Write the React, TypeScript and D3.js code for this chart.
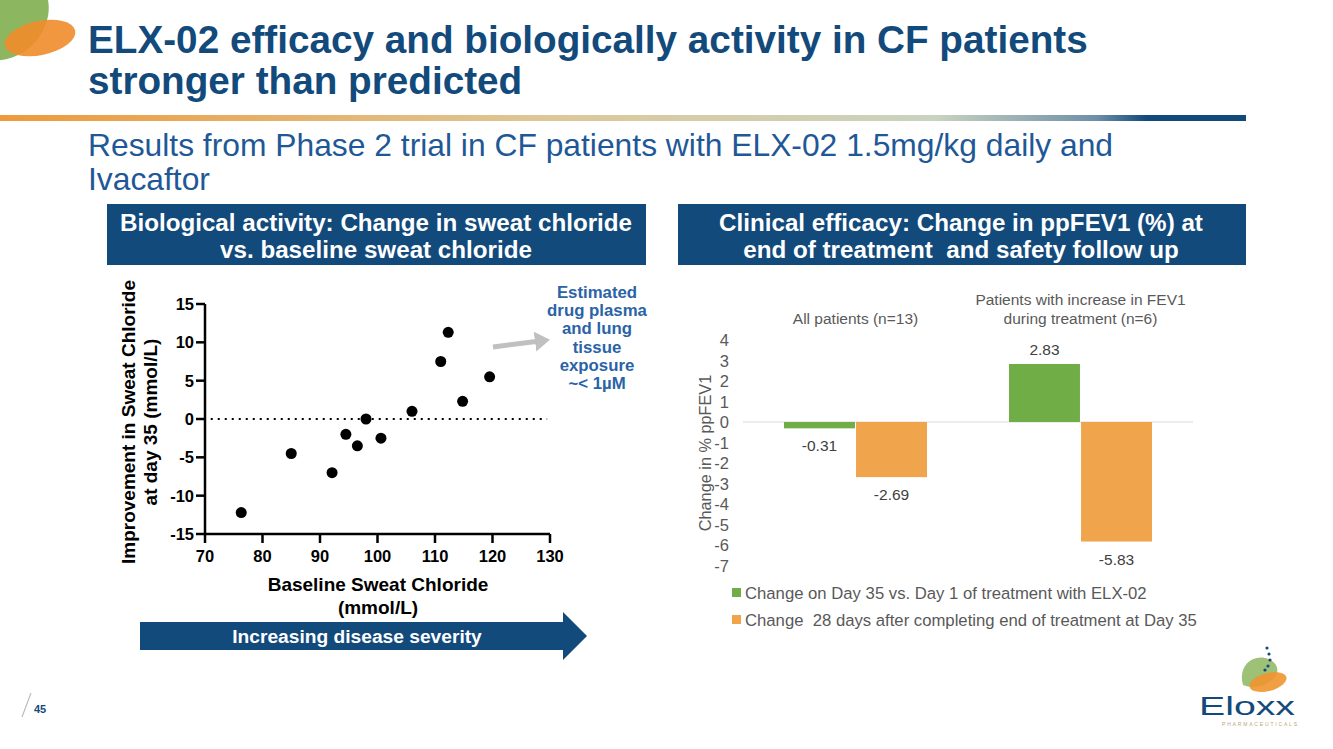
import React from "react";
import * as d3 from "d3";

const baselineSweat = [76.3, 85, 92.1, 94.5, 96.5, 98, 100.6, 106, 111, 112.3, 114.8, 119.5];
const improvementSweat = [-12.2, -4.5, -7, -2, -3.5, 0, -2.5, 1, 7.5, 11.3, 2.3, 5.5];
const scatterXTicks = [70, 80, 90, 100, 110, 120, 130];
const scatterYTicks = [15, 10, 5, 0, -5, -10, -15];

const barCategories = ["All patients (n=13)", "Patients with increase in FEV1|during treatment (n=6)"];
const seriesNames = [
  "Change on Day 35 vs. Day 1 of treatment with ELX-02",
  "Change  28 days after completing end of treatment at Day 35",
];
const day35Values = [-0.31, 2.83];
const after28Values = [-2.69, -5.83];
const barYTicks = [4, 3, 2, 1, 0, -1, -2, -3, -4, -5, -6, -7];
const annotationLines = ["Estimated", "drug plasma", "and lung", "tissue", "exposure", "~< 1\u00b5M"];

const BLUE = "#134a7c";
const GREEN = "#70ad47";
const ORANGE = "#f0a44b";
const FONT = "'Liberation Sans', Arial, sans-serif";

export default function App() {
  const sx = d3.scaleLinear().domain([70, 130]).range([205, 550]);
  const sy = d3.scaleLinear().domain([-15, 15]).range([534, 304]);
  const bx = d3.scaleBand<number>().domain([0, 1]).range([743, 1193]).paddingInner(0).paddingOuter(0);
  const by = d3.scaleLinear().domain([-7, 4]).range([565.5, 340]);
  const groupW = 143;
  const inner = d3.scaleBand<number>().domain([0, 1]).range([0, groupW]).paddingInner(0.015);
  const series = [day35Values, after28Values];
  const colors = [GREEN, ORANGE];

  return (
    <svg width={1333} height={749} style={{ position: "absolute", left: 0, top: 0, fontFamily: FONT }}>
      <defs>
        <linearGradient id="hdrGrad" x1="0" x2="1" y1="0" y2="0">
          <stop offset="0" stopColor="#ee9a3a" />
          <stop offset="0.45" stopColor="#ddc89a" />
          <stop offset="0.75" stopColor="#c9d3bf" />
          <stop offset="0.88" stopColor="#6f8fa8" />
          <stop offset="0.92" stopColor={BLUE} />
          <stop offset="1" stopColor={BLUE} />
        </linearGradient>
        <marker id="greyHead" markerWidth="4" markerHeight="4" refX="1" refY="2" orient="auto" markerUnits="strokeWidth">
          <path d="M0,0 L3,2 L0,4 Z" fill="#c0c0c0" />
        </marker>
      </defs>
      <rect width={1333} height={749} fill="#fff" />

      {/* top-left leaves */}
      <path d="M0,0 L48,0 C52,20 40,45 18,55 C10,59 3,60 0,60 Z" fill="#8db660" />
      <ellipse cx={40} cy={38} rx={36} ry={17} transform="rotate(-12 40 38)" fill="#f08c2a" opacity={0.9} />

      {/* Title */}
      <text x={88} y={53} fontSize={38.7} fontWeight="bold" fill={BLUE}>ELX-02 efficacy and biologically activity in CF patients</text>
      <text x={88} y={94} fontSize={38.7} fontWeight="bold" fill={BLUE}>stronger than predicted</text>
      <rect x={0} y={115} width={1246} height={6} fill="url(#hdrGrad)" />

      <text x={88} y={156} fontSize={31.8} fill="#1f5896">Results from Phase 2 trial in CF patients with ELX-02 1.5mg/kg daily and</text>
      <text x={88} y={190} fontSize={31.8} fill="#1f5896">Ivacaftor</text>

      {/* header boxes */}
      <rect x={107} y={204} width={539} height={61} fill={BLUE} />
      <text x={376} y={231} fontSize={24.2} fontWeight="bold" fill="#fff" textAnchor="middle">Biological activity: Change in sweat chloride</text>
      <text x={376} y={258} fontSize={24.2} fontWeight="bold" fill="#fff" textAnchor="middle">vs. baseline sweat chloride</text>
      <rect x={678} y={204} width={568} height={61} fill={BLUE} />
      <text x={961} y={231} fontSize={24.2} fontWeight="bold" fill="#fff" textAnchor="middle" style={{ whiteSpace: "pre" }}>Clinical efficacy: Change in ppFEV1 (%) at</text>
      <text x={961} y={258} fontSize={24.2} fontWeight="bold" fill="#fff" textAnchor="middle" style={{ whiteSpace: "pre" }}>end of treatment  and safety follow up</text>

      {/* Scatter */}
      <line x1={sx(71)} x2={sx(129.5)} y1={sy(0)} y2={sy(0)} stroke="#000" strokeWidth={2} strokeDasharray="2,5" />
      <line x1={sx(70)} x2={sx(70)} y1={sy(-15)} y2={sy(15)} stroke="#000" strokeWidth={2.5} />
      <line x1={sx(70)} x2={sx(130)} y1={sy(-15)} y2={sy(-15)} stroke="#000" strokeWidth={2.5} />
      {scatterYTicks.map((t) => (
        <g key={"sy" + t}>
          <line x1={sx(70) - 9} x2={sx(70)} y1={sy(t)} y2={sy(t)} stroke="#000" strokeWidth={2.5} />
          <text x={sx(70) - 11} y={sy(t) + 6} fontSize={16.5} fontWeight="bold" textAnchor="end">{t}</text>
        </g>
      ))}
      {scatterXTicks.map((t) => (
        <g key={"sx" + t}>
          <line x1={sx(t)} x2={sx(t)} y1={sy(-15)} y2={sy(-15) + 9} stroke="#000" strokeWidth={2.5} />
          <text x={sx(t)} y={sy(-15) + 28} fontSize={16.5} fontWeight="bold" textAnchor="middle">{t}</text>
        </g>
      ))}
      {baselineSweat.map((b, i) => (
        <circle key={"pt" + i} cx={sx(b)} cy={sy(improvementSweat[i])} r={5.5} fill="#000" />
      ))}
      <text transform="translate(135,422) rotate(-90)" fontSize={19} fontWeight="bold" textAnchor="middle">Improvement in Sweat Chloride</text>
      <text transform="translate(157,422) rotate(-90)" fontSize={19} fontWeight="bold" textAnchor="middle">at day 35 (mmol/L)</text>
      <text x={378} y={591} fontSize={19} fontWeight="bold" textAnchor="middle">Baseline Sweat Chloride</text>
      <text x={378} y={614} fontSize={19} fontWeight="bold" textAnchor="middle">(mmol/L)</text>

      {/* annotation */}
      {annotationLines.map((l, i) => (
        <text key={"an" + i} x={597} y={298 + i * 18.2} fontSize={16.8} fontWeight="bold" fill="#2a63a6" textAnchor="middle">{l}</text>
      ))}
      <line x1={493} y1={347} x2={540} y2={341} stroke="#c0c0c0" strokeWidth={5} markerEnd="url(#greyHead)" />

      {/* blue arrow */}
      <path d="M140,622 L563,622 L563,612 L587,636 L563,660 L563,650 L140,650 Z" fill={BLUE} />
      <text x={357} y={643} fontSize={19.2} fontWeight="bold" fill="#fff" textAnchor="middle">Increasing disease severity</text>

      {/* Bar chart */}
      {barYTicks.map((t) => (
        <text key={"by" + t} x={729} y={by(t) + 6} fontSize={16.5} fill="#595959" textAnchor="end">{t}</text>
      ))}
      <line x1={743} x2={1193} y1={by(0)} y2={by(0)} stroke="#d9d9d9" strokeWidth={1} />
      {barCategories.map((c, ci) => {
        const gx = (bx(ci) as number) + (bx.bandwidth() - groupW) / 2;
        const cx = (bx(ci) as number) + bx.bandwidth() / 2;
        const lines = c.split("|");
        return (
          <g key={"cat" + ci}>
            {lines.map((l, li) => (
              <text key={li} x={cx} y={324 - (lines.length - 1 - li) * 19} fontSize={15.5} fill="#595959" textAnchor="middle">{l}</text>
            ))}
            {series.map((s, si) => {
              const v = s[ci];
              const x = gx + (inner(si) as number);
              const y0 = by(0), y1 = by(v);
              const labelY = v >= 0 ? y1 - 9 : y1 + 23;
              return (
                <g key={si}>
                  <rect x={x} y={Math.min(y0, y1)} width={inner.bandwidth()} height={Math.abs(y1 - y0)} fill={colors[si]} />
                  <text x={x + inner.bandwidth() / 2} y={labelY} fontSize={15.5} fill="#404040" textAnchor="middle">{v.toFixed(2)}</text>
                </g>
              );
            })}
          </g>
        );
      })}
      <text transform="translate(711,453) rotate(-90)" fontSize={16.3} fill="#595959" textAnchor="middle">Change in % ppFEV1</text>
      {seriesNames.map((n, i) => (
        <g key={"lg" + i}>
          <rect x={732} y={588 + i * 27} width={9} height={9} fill={colors[i]} />
          <text x={745} y={599 + i * 27} fontSize={16.7} fill="#595959" style={{ whiteSpace: "pre" }}>{n}</text>
        </g>
      ))}

      {/* page number */}
      <line x1={22} y1={717} x2={31} y2={693} stroke="#bbb" strokeWidth={1.2} />
      <text x={34} y={713} fontSize={11} fontWeight="bold" fill={BLUE}>45</text>

      {/* Eloxx logo */}
      <path d="M1243,685 C1238,668 1250,655 1265,658 C1275,660 1280,668 1276,676 C1270,684 1255,690 1243,685 Z" fill="#8db660" opacity={0.85} />
      <ellipse cx={1268} cy={682} rx={19} ry={9} transform="rotate(-15 1268 682)" fill="#f0952f" opacity={0.9} />
      {[[1267, 648], [1269, 654], [1270, 660], [1268, 666], [1265, 670]].map((p, i) => (
        <circle key={"dot" + i} cx={p[0]} cy={p[1]} r={1.6} fill={BLUE} />
      ))}
      <text x={1199} y={715} fontSize={25} fill={BLUE} textLength={96} lengthAdjust="spacingAndGlyphs">Eloxx</text>
      <text x={1222} y={726} fontSize={5} fill="#b9a77a" textLength={75} lengthAdjust="spacing">PHARMACEUTICALS</text>
    </svg>
  );
}
